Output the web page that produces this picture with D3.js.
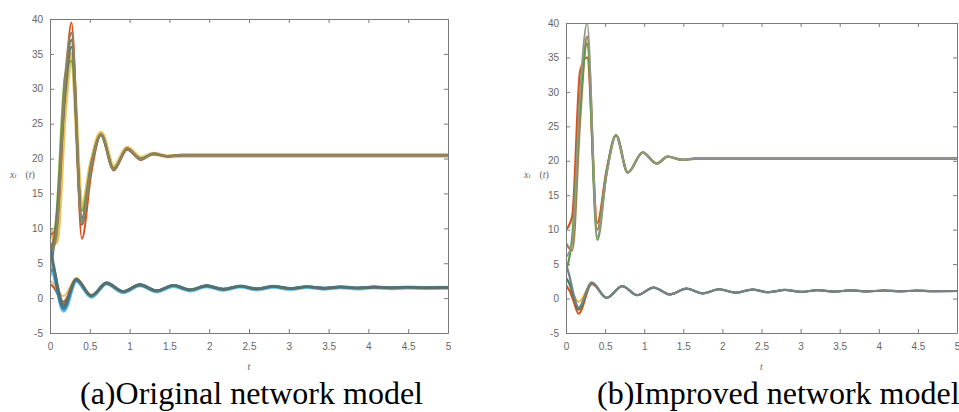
<!DOCTYPE html>
<html><head><meta charset="utf-8">
<script src="https://cdn.jsdelivr.net/npm/d3@7"></script>
<style>
html,body{margin:0;padding:0;background:#fff;}
svg{display:block;}
</style></head>
<body>
<svg id="chart" width="959" height="412"></svg>
<script>
// ---------- data ----------
const xTicks = [0, 0.5, 1, 1.5, 2, 2.5, 3, 3.5, 4, 4.5, 5];
const yTicks = [-5, 0, 5, 10, 15, 20, 25, 30, 35, 40];
const captionA = "(a)Original network model";
const captionB = "(b)Improved network model";

// (a) upper group
const tUpperA = [0, 0.08, 0.19, 0.27, 0.40, 0.52, 0.64, 0.80, 0.97, 1.14, 1.30, 1.48, 1.65, 5];
const upperA1 = [10, 8, 27, 35, 13, 19.6, 23.7, 18.8, 21.5, 20.1, 20.7, 20.3, 20.4, 20.4];
const upperA2 = [9, 10, 30, 39.5, 8.5, 18, 23.5, 18.3, 21.5, 19.8, 20.7, 20.3, 20.5, 20.5];
const upperA3 = [4, 12, 32, 34, 12.5, 19.5, 23.3, 18.6, 21.3, 20, 20.6, 20.35, 20.55, 20.55];
const upperA4 = [3, 11, 29, 36, 11.5, 19.2, 23.4, 18.5, 21.3, 19.9, 20.7, 20.3, 20.5, 20.5];
const upperA5 = [7, 10, 30.5, 37, 10.5, 19, 23.4, 18.5, 21.3, 19.95, 20.65, 20.35, 20.45, 20.45];
const upperA6 = [6, 9, 31.5, 38, 11, 19, 23.5, 18.4, 21.4, 19.9, 20.7, 20.3, 20.5, 20.5];

// (a) lower group
const tLowerA = [0, 0.05, 0.10, 0.17, 0.33, 0.52, 0.71, 0.92, 1.13, 1.34, 1.55, 1.76, 1.97, 2.18, 2.39, 2.6, 2.81, 3.02, 3.23, 3.44, 3.65, 3.86, 4.07, 4.28, 4.49, 4.7, 5];
const lowerA1 = [2.5, 2, 1, 0.3, 2.9, 0.5, 2.3, 1.0, 2.0, 1.1, 1.85, 1.2, 1.8, 1.3, 1.75, 1.35, 1.7, 1.4, 1.65, 1.45, 1.63, 1.48, 1.6, 1.5, 1.58, 1.52, 1.55];
const lowerA2 = [2, 1.5, 0.5, -0.5, 2.8, 0.4, 2.2, 1.0, 1.95, 1.1, 1.85, 1.2, 1.8, 1.3, 1.72, 1.35, 1.68, 1.4, 1.64, 1.44, 1.62, 1.47, 1.6, 1.5, 1.57, 1.52, 1.54];
const lowerA3 = [6, 3.5, 1, -1.8, 2.5, 0.2, 2.1, 0.85, 1.85, 0.95, 1.75, 1.1, 1.7, 1.2, 1.65, 1.26, 1.62, 1.3, 1.58, 1.35, 1.56, 1.38, 1.54, 1.41, 1.52, 1.44, 1.47];
const lowerA4 = [8, 4, 0.5, -1.6, 2.6, 0.25, 2.2, 0.95, 1.95, 1.05, 1.85, 1.2, 1.8, 1.3, 1.75, 1.35, 1.7, 1.4, 1.65, 1.45, 1.63, 1.47, 1.6, 1.5, 1.58, 1.52, 1.55];
const lowerA5 = [4, 4, 1.5, -0.8, 2.6, 0.35, 2.1, 0.9, 1.9, 1.0, 1.8, 1.15, 1.74, 1.24, 1.7, 1.3, 1.66, 1.34, 1.62, 1.38, 1.6, 1.42, 1.57, 1.45, 1.55, 1.47, 1.5];
const lowerA6 = [7, 4.5, 1.2, -1.2, 2.7, 0.3, 2.15, 0.95, 1.9, 1.05, 1.8, 1.18, 1.75, 1.25, 1.7, 1.32, 1.66, 1.36, 1.62, 1.4, 1.6, 1.44, 1.58, 1.47, 1.56, 1.49, 1.52];

// (b) upper group
const tUpperB = [0, 0.08, 0.18, 0.27, 0.40, 0.52, 0.64, 0.79, 0.98, 1.16, 1.30, 1.48, 1.65, 5];
const upperB1 = [10, 12, 33, 35, 11, 18.7, 23.7, 18.3, 21.2, 19.6, 20.6, 20.15, 20.3, 20.3];
const upperB2 = [8, 7, 26, 38, 10, 18.4, 23.7, 18.3, 21.2, 19.6, 20.6, 20.15, 20.3, 20.3];
const upperB3 = [4, 9, 28, 37, 8.5, 18.3, 23.7, 18.3, 21.2, 19.6, 20.6, 20.15, 20.3, 20.3];
const upperB4 = [6, 8, 30, 40, 9, 18, 23.7, 18.3, 21.2, 19.6, 20.6, 20.15, 20.3, 20.3];

// (b) lower group
const tLowerB = [0, 0.05, 0.10, 0.16, 0.33, 0.52, 0.72, 0.91, 1.12, 1.33, 1.54, 1.75, 1.96, 2.17, 2.38, 2.59, 2.8, 3.01, 3.22, 3.43, 3.64, 3.85, 4.06, 4.27, 4.48, 4.69, 5];
const lowerB1 = [1.5, 1.2, 0.5, -0.5, 2.2, 0.1, 1.8, 0.5, 1.6, 0.6, 1.45, 0.75, 1.35, 0.85, 1.3, 0.92, 1.25, 0.97, 1.22, 1.0, 1.2, 1.03, 1.17, 1.05, 1.15, 1.07, 1.1];
const lowerB2 = [2, 1, -0.5, -2.2, 2.1, 0.1, 1.8, 0.5, 1.6, 0.6, 1.45, 0.75, 1.35, 0.85, 1.3, 0.92, 1.25, 0.97, 1.22, 1.0, 1.2, 1.03, 1.17, 1.05, 1.15, 1.07, 1.1];
const lowerB3 = [3, 2, 0, -1.6, 2.3, 0.1, 1.8, 0.5, 1.6, 0.6, 1.45, 0.75, 1.35, 0.85, 1.3, 0.92, 1.25, 0.97, 1.22, 1.0, 1.2, 1.03, 1.17, 1.05, 1.15, 1.07, 1.1];
const lowerB4 = [5, 3, 0.5, -1.3, 2.3, 0.1, 1.8, 0.5, 1.6, 0.6, 1.45, 0.75, 1.35, 0.85, 1.3, 0.92, 1.25, 0.97, 1.22, 1.0, 1.2, 1.03, 1.17, 1.05, 1.15, 1.07, 1.1];

// ---------- drawing ----------
const svg = d3.select("#chart");
const fmt = v => d3.format("~g")(v).replace("\u2212", "-");

function panel(cfg) {
  const x = d3.scaleLinear().domain([0, 5]).range([cfg.x0, cfg.x1]);
  const y = d3.scaleLinear().domain([-5, 40]).range([cfg.yb, cfg.yt]);
  const g = svg.append("g");
  g.append("rect").attr("x", cfg.x0).attr("y", cfg.yt)
    .attr("width", cfg.x1 - cfg.x0).attr("height", cfg.yb - cfg.yt).attr("fill", "#fff");

  const clipId = "clip" + cfg.id;
  svg.append("clipPath").attr("id", clipId).append("rect")
    .attr("x", cfg.x0).attr("y", cfg.yt).attr("width", cfg.x1 - cfg.x0).attr("height", cfg.yb - cfg.yt);

  const lines = g.append("g").attr("clip-path", `url(#${clipId})`);
  cfg.series.forEach(s => {
    const gen = d3.line().x((d, i) => x(s.t[i])).y(d => y(d)).curve(d3.curveMonotoneX);
    lines.append("path").attr("d", gen(s.v)).attr("fill", "none")
      .attr("stroke", s.c).attr("stroke-width", s.w).attr("stroke-linejoin", "round")
      .attr("opacity", s.o || 1);
  });

  const axisStyle = sel => {
    sel.select(".domain").attr("stroke", "#7a7a7a");
    sel.selectAll(".tick line").attr("stroke", "#7a7a7a");
    sel.selectAll(".tick text").attr("fill", "#666").attr("font-size", 10)
      .attr("font-family", "Liberation Sans, Arial, sans-serif");
  };
  g.append("g").attr("transform", `translate(0,${cfg.yb})`)
    .call(d3.axisBottom(x).tickValues(xTicks).tickFormat(fmt).tickSizeInner(-4).tickSizeOuter(0).tickPadding(10))
    .call(axisStyle);
  g.append("g").attr("transform", `translate(0,${cfg.yt})`)
    .call(d3.axisTop(x).tickValues(xTicks).tickFormat("").tickSizeInner(-4).tickSizeOuter(0))
    .call(axisStyle);
  g.append("g").attr("transform", `translate(${cfg.x0},0)`)
    .call(d3.axisLeft(y).tickValues(yTicks).tickFormat(fmt).tickSizeInner(-4).tickSizeOuter(0).tickPadding(7))
    .call(axisStyle);
  g.append("g").attr("transform", `translate(${cfg.x1},0)`)
    .call(d3.axisRight(y).tickValues(yTicks).tickFormat("").tickSizeInner(-4).tickSizeOuter(0))
    .call(axisStyle);

  // axis labels
  g.append("text").attr("x", (cfg.x0 + cfg.x1) / 2).attr("y", cfg.yb + 37)
    .attr("text-anchor", "middle").attr("font-size", 10).attr("font-style", "italic")
    .attr("fill", "#666").attr("font-family", "Liberation Serif, serif").text("t");
  const yl = g.append("text").attr("x", cfg.ylx).attr("y", 178)
    .attr("font-size", 10).attr("fill", "#666").attr("font-family", "Liberation Serif, serif");
  yl.append("tspan").attr("font-style", "italic").text("x");
  yl.append("tspan").attr("font-style", "italic").attr("font-size", 7).text("i");
  yl.append("tspan").attr("dx", 9).text("(");
  yl.append("tspan").attr("font-style", "italic").text("t");
  yl.append("tspan").text(")");

  g.append("text").attr("x", cfg.capx).attr("y", 404)
    .attr("font-size", 32).attr("fill", "#000")
    .attr("font-family", "Liberation Serif, Times New Roman, serif").text(cfg.caption);
}

panel({
  id: "a", x0: 50, x1: 448, yt: 19, yb: 333, ylx: 10, capx: 80, caption: captionA,
  series: [
    { t: tUpperA, v: upperA1, c: "#e9c25a", w: 4 },
    { t: tUpperA, v: upperA2, c: "#D95319", w: 2 },
    { t: tUpperA, v: upperA3, c: "#77AC30", w: 2 },
    { t: tUpperA, v: upperA4, c: "#56776f", w: 2.2 },
    { t: tUpperA, v: upperA5, c: "#7c7658", w: 2.4 },
    { t: tUpperA, v: upperA6, c: "#8e8360", w: 2.4 },
    { t: tLowerA, v: lowerA1, c: "#e6c070", w: 2 },
    { t: tLowerA, v: lowerA2, c: "#D95319", w: 2 },
    { t: tLowerA, v: lowerA3, c: "#5fc2ea", w: 4 },
    { t: tLowerA, v: lowerA4, c: "#2d86c0", w: 2.4 },
    { t: tLowerA, v: lowerA5, c: "#6a7e74", w: 2.6 },
    { t: tLowerA, v: lowerA6, c: "#566e6c", w: 2.6 }
  ]
});

panel({
  id: "b", x0: 566, x1: 957, yt: 23, yb: 333, ylx: 524, capx: 597, caption: captionB,
  series: [
    { t: tUpperB, v: upperB1, c: "#D95319", w: 2.2 },
    { t: tUpperB, v: upperB2, c: "#a88045", w: 2.4 },
    { t: tUpperB, v: upperB3, c: "#5f9a48", w: 2.2 },
    { t: tUpperB, v: upperB4, c: "#8f988a", w: 1.8 },
    { t: tLowerB, v: lowerB1, c: "#EDB120", w: 1.6 },
    { t: tLowerB, v: lowerB2, c: "#D95319", w: 2 },
    { t: tLowerB, v: lowerB3, c: "#4d7d52", w: 2.2 },
    { t: tLowerB, v: lowerB4, c: "#72838c", w: 2.2 }
  ]
});
</script>
</body></html>
